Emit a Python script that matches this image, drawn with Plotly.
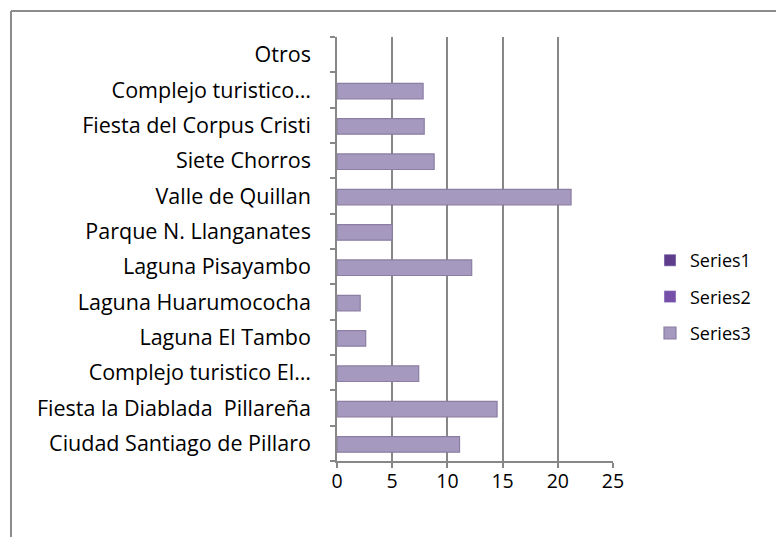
import plotly.graph_objects as go

# Categories listed from the bottom of the axis to the top
categories = [
    "Ciudad Santiago de Pillaro",
    "Fiesta la Diablada\u00a0 Pillareña",
    "Complejo turistico El…",
    "Laguna El Tambo",
    "Laguna Huarumococha",
    "Laguna Pisayambo",
    "Parque N. Llanganates",
    "Valle de Quillan",
    "Siete Chorros",
    "Fiesta del Corpus Cristi",
    "Complejo turistico…",
    "Otros",
]
series1 = [None] * len(categories)
series2 = [None] * len(categories)
series3 = [11.1, 14.5, 7.4, 2.6, 2.1, 12.2, 5.0, 21.2, 8.8, 7.9, 7.8, None]

x_ticks = [0, 5, 10, 15, 20, 25]

W, H = 776, 537
L, R, T, B = 337, 163, 37, 76
FONT = "Open Sans"
GRID = "#878787"

fig = go.Figure()
fig.add_trace(go.Bar(name="Series1", y=categories, x=series1, orientation="h",
                     marker=dict(color="#5E3E8C"), legendgroup="s1"))
fig.add_trace(go.Bar(name="Series2", y=categories, x=series2, orientation="h",
                     marker=dict(color="#7650A8"), legendgroup="s2"))
fig.add_trace(go.Bar(name="Series3", y=categories, x=series3, orientation="h",
                     width=0.44, offset=-0.25,
                     marker=dict(color="#A699BF",
                                 line=dict(color="#8A7EA2", width=1.2)),
                     legendgroup="s3"))

pw, ph = W - L - R, H - T - B


def px_x(p):
    return (p - L) / pw


def px_y(p):
    return 1 - (p - T) / ph


# outer chart frame (only its top and left edges fall inside the page)
fig.add_shape(type="line", xref="paper", yref="paper",
              x0=px_x(11), x1=px_x(W + 20), y0=px_y(11), y1=px_y(11),
              line=dict(color="#8C8C8C", width=2))
fig.add_shape(type="line", xref="paper", yref="paper",
              x0=px_x(11), x1=px_x(11), y0=px_y(11), y1=px_y(H + 20),
              line=dict(color="#8C8C8C", width=2))

fig.update_layout(
    width=W, height=H,
    margin=dict(l=L, r=R, t=T, b=B),
    paper_bgcolor="white", plot_bgcolor="white",
    barmode="overlay",
    font=dict(family=FONT, size=22, color="black"),
    showlegend=True,
    legend=dict(x=px_x(650), y=px_y(242), xanchor="left", yanchor="top",
                traceorder="grouped", tracegroupgap=10,
                font=dict(family=FONT, size=18, color="black"),
                bgcolor="rgba(0,0,0,0)", itemwidth=30),
)
fig.update_xaxes(range=[0, 25], tickvals=x_ticks, showgrid=True,
                 gridcolor=GRID, gridwidth=1.5, showline=True,
                 linecolor=GRID, linewidth=1.5, ticks="outside",
                 ticklen=5, tickcolor=GRID, tickwidth=1.5, zeroline=False,
                 tickfont=dict(size=19.5), ticklabelstandoff=-3)
fig.update_yaxes(type="category", categoryorder="array",
                 categoryarray=categories, showgrid=False, showline=True,
                 linecolor=GRID, linewidth=1.5, ticks="outside", ticklen=5,
                 tickcolor=GRID, tickwidth=1.5, tickson="boundaries",
                 tickfont=dict(size=21.5), ticklabelstandoff=20)

fig.write_html("out.html")
